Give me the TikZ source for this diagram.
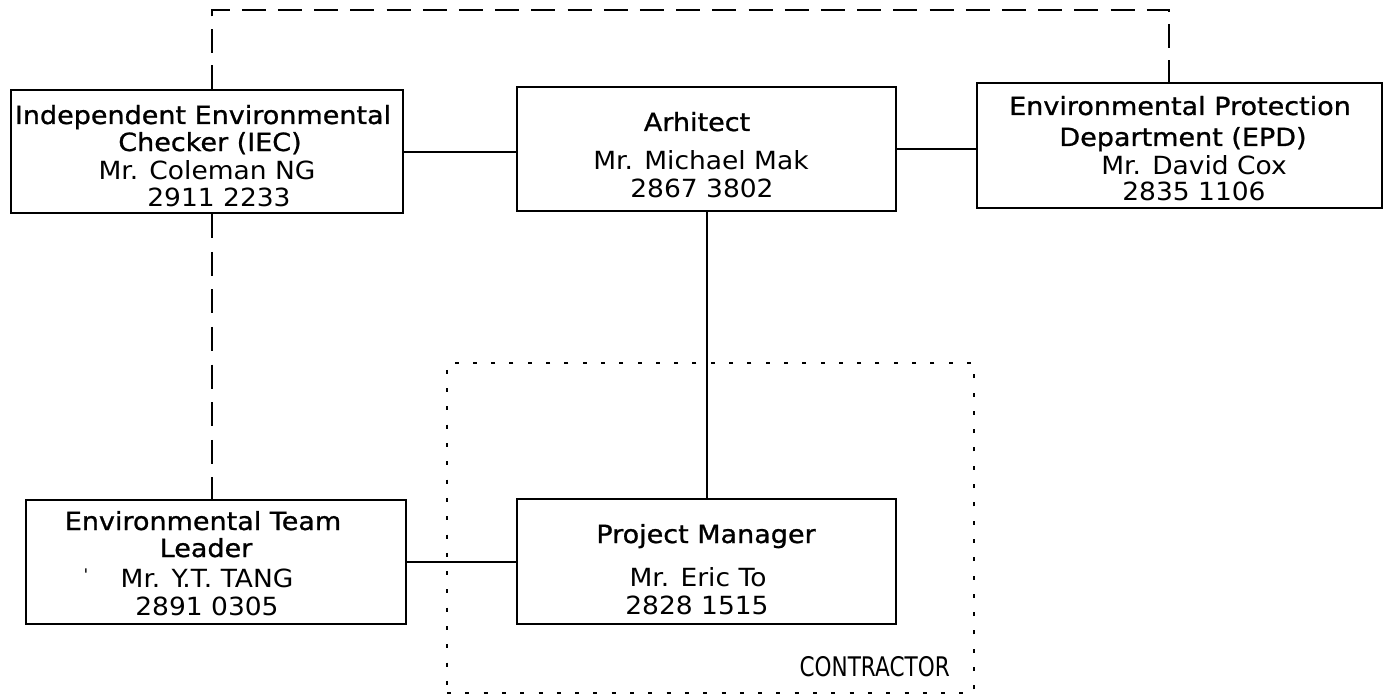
\documentclass[tikz,border=0pt]{standalone}
\usepackage{fontspec}
\setmainfont{DejaVu Sans}
\newfontfamily\ttlfont[FakeBold=1,FakeStretch=1.08]{DejaVu Sans}
\newfontfamily\detfont[FakeStretch=1.06]{DejaVu Sans}
\newfontfamily\ctrfont[FakeStretch=0.8]{DejaVu Sans}
\begin{document}
\begin{tikzpicture}[x=1pt,y=-1pt,
  box/.style={draw, line width=2.3pt, inner sep=0pt},
  ttl/.style={anchor=base, inner sep=0pt, font=\ttlfont\fontsize{25}{30}\selectfont},
  det/.style={anchor=base, inner sep=0pt, font=\detfont\fontsize{25}{30}\selectfont},
  ctr/.style={anchor=base east, inner sep=0pt, font=\ctrfont\fontsize{27}{32}\selectfont},
  link/.style={line width=2pt},
  dashtop/.style={line width=2pt, dash pattern=on 24pt off 12.2pt},
  dashside/.style={line width=2pt, dash pattern=on 24pt off 13.6pt},
  dotbox/.style={draw, line width=2.2pt, dash pattern=on 4pt off 14.3pt, inner sep=0pt}]
\useasboundingbox (0,0) rectangle (1394,698);

% contractor zone
\node[dotbox, minimum width=527pt, minimum height=330pt] (contr) at (710.5,528) {};
\node[ctr] (ctrlab) at (950,676) {CONTRACTOR};

% boxes
\node[box, minimum width=392pt, minimum height=123pt] (iec) at (207,151.5) {};
\node[box, minimum width=379pt, minimum height=124pt] (arch) at (706.5,149) {};
\node[box, minimum width=405pt, minimum height=125pt] (epd) at (1179.5,145.5) {};
\node[box, minimum width=380pt, minimum height=124pt] (etl) at (216,562) {};
\node[box, minimum width=379pt, minimum height=125pt] (pm) at (706.5,561.5) {};

% texts
\node[ttl] (iec1) at (203,124) {Independent Environmental};
\node[ttl] (iec2) at (210,151) {Checker (IEC)};
\node[det] (iec3) at (207,179) {Mr. Coleman NG};
\node[det] (iec4) at (219,206) {2911 2233};

\node[ttl] (arch1) at (697,131) {Arhitect};
\node[det] (arch2) at (701,169) {Mr. Michael Mak};
\node[det] (arch3) at (702,197) {2867 3802};

\node[ttl] (epd1) at (1180,115) {Environmental Protection};
\node[ttl] (epd2) at (1183,146) {Department (EPD)};
\node[det] (epd3) at (1194,174) {Mr. David Cox};
\node[det] (epd4) at (1194,200) {2835 1106};

\node[ttl] (etl1) at (203,530) {Environmental Team};
\node[ttl] (etl2) at (206,557) {Leader};
\node[det, font=\detfont\fontsize{16}{18}\selectfont] (tick) at (86,580) {'};
\node[det] (etl3) at (207,587) {Mr. Y.T. TANG};
\node[det] (etl4) at (207,615) {2891 0305};

\node[ttl] (pm1) at (706,543) {Project Manager};
\node[det] (pm2) at (698,586) {Mr. Eric To};
\node[det] (pm3) at (697,614) {2828 1515};

% connectors
\coordinate (tl) at (212,10);
\coordinate (tr) at (1169,10);
\draw[dashtop] (iec.north -| tl) -- (tl) -- (tr) -- (epd.north -| tr);
\draw[dashside] (iec.south -| tl) -- (etl.north -| tl);
\draw[link] (iec.east) -- (iec.east -| arch.west);
\draw[link] (arch.east) -- (arch.east -| epd.west);
\draw[link] (arch.south) -- (pm.north);
\draw[link] (etl.east) -- (etl.east -| pm.west);
\end{tikzpicture}
\end{document}
